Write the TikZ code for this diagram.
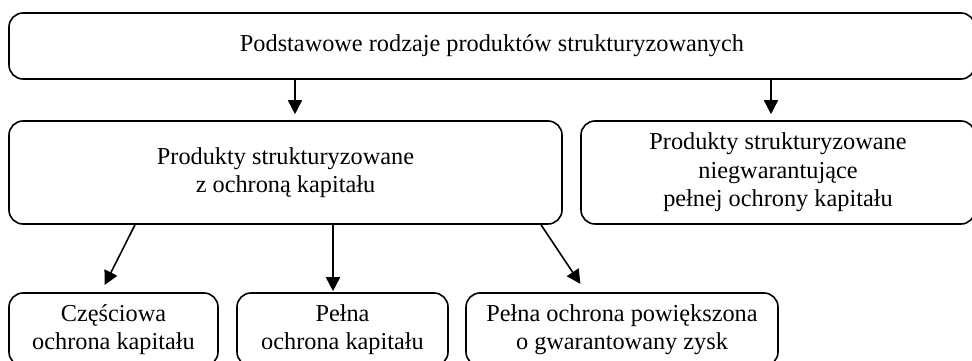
\documentclass[tikz,border=0pt]{standalone}
\usepackage{fontspec}
\setmainfont{Liberation Serif}
\usetikzlibrary{arrows.meta,calc}
\begin{document}
\begin{tikzpicture}[x=1pt,y=-1pt,
  box/.style={draw=black, line width=1.6pt, rounded corners=14pt, align=center,
    font=\fontsize{24.3}{28.5}\selectfont, inner sep=0pt},
  arr/.style={line width=1.6pt, -{Triangle[length=14pt,width=14pt]}}]
\useasboundingbox (0,0) rectangle (972,361);
\node[box, minimum width=966pt, minimum height=66pt] (top) at (492,46) {Podstawowe rodzaje produktów strukturyzowanych};
\node[box, minimum width=553pt, minimum height=103pt] (midL) at (285.5,172.5) {Produkty strukturyzowane\\z ochroną kapitału};
\node[box, minimum width=394pt, minimum height=103pt] (midR) at (778,172.5) {Produkty strukturyzowane\\niegwarantujące\\pełnej ochrony kapitału};
\node[box, minimum width=209pt, minimum height=73pt] (b1) at (113.5,329.5) {Częściowa\\ochrona kapitału};
\node[box, minimum width=211pt, minimum height=73pt] (b2) at (342.5,329.5) {Pełna\\ochrona kapitału};
\node[box, minimum width=312pt, minimum height=73pt] (b3) at (622,329.5) {Pełna ochrona powiększona\\o gwarantowany zysk};
\draw[arr, shorten >=6pt] (top.south -| 295,0) -- (midL.north -| 295,0);
\draw[arr, shorten >=6pt] (top.south -| 771,0) -- (midR.north -| 771,0);
\draw[arr, shorten >=8pt] (midL.south -| 135,0) -- (b1.north -| 101,0);
\draw[arr, shorten >=1pt] (midL.south -| 333,0) -- (b2.north -| 333,0);
\draw[arr, shorten >=10pt] (midL.south -| 541,0) -- (b3.north -| 586,0);
\end{tikzpicture}
\end{document}
